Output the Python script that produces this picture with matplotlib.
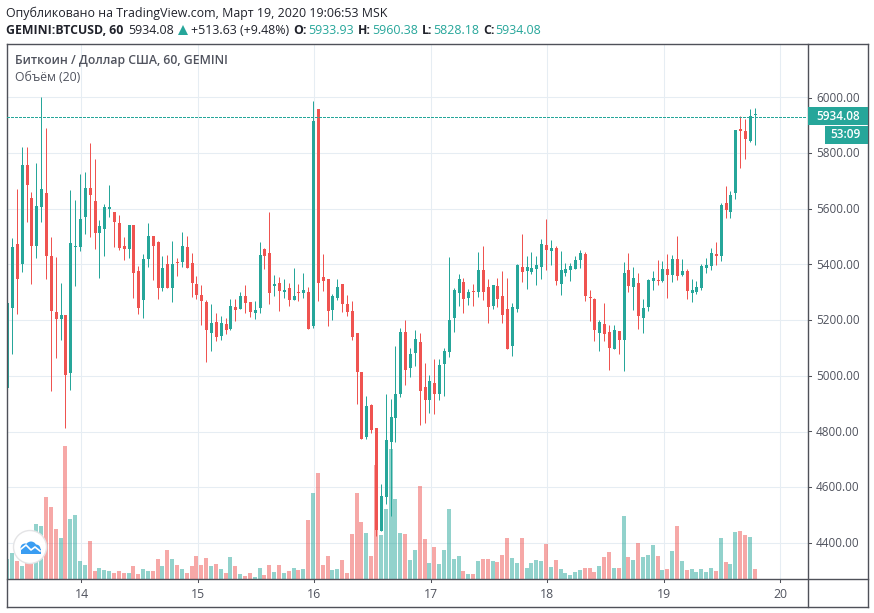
import numpy as np
import matplotlib
matplotlib.use('Agg')
import matplotlib.pyplot as plt
from matplotlib.patches import Circle, Rectangle

plt.rcParams['font.family'] = ['Open Sans', 'DejaVu Sans']

# hourly candles
opens = [4957,5244,5473,5402,5757,5638,5467,5604,5656,5430,
         5229,5205,5218,5011,5463,5462,5571,5674,5627,5514,
         5528,5600,5588,5548,5466,5456,5541,5376,5273,5420,
         5502,5480,5316,5401,5316,5408,5410,5462,5405,5329,
         5290,5265,5154,5193,5144,5186,5169,5247,5241,5286,
         5265,5226,5244,5455,5441,5323,5333,5302,5315,5273,
         5301,5298,5301,5178,5958,5355,5347,5237,5280,5329,
         5257,5232,5153,5015,4782,4897,4814,4444,4566,4764,
         4847,4935,5157,5029,5083,5121,4959,4914,4974,4935,
         5043,5086,5208,5298,5337,5279,5304,5302,5380,5319,
         5250,5322,5286,5239,5108,5241,5390,5377,5374,5384,
         5392,5469,5449,5459,5330,5370,5381,5384,5417,5437,
         5283,5275,5154,5186,5157,5097,5160,5129,5380,5320,
         5333,5208,5248,5341,5344,5340,5383,5363,5419,5362,
         5376,5298,5302,5314,5388,5395,5437,5428,5620,5589,
         5657,5886,5879,5842,5933.93]
closes = [5260,5462,5348,5757,5683,5467,5610,5671,5428,5233,
          5205,5218,5004,5477,5466,5563,5674,5650,5514,5538,
          5606,5606,5550,5460,5456,5541,5370,5244,5419,5502,
          5467,5316,5387,5316,5401,5406,5466,5388,5334,5291,
          5269,5165,5189,5140,5189,5165,5250,5237,5286,5262,
          5230,5236,5433,5428,5298,5329,5305,5308,5273,5286,
          5298,5308,5169,5915,5334,5341,5233,5286,5319,5259,
          5230,5140,5014,4775,4893,4807,4448,4570,4768,4854,
          4936,5157,5022,5078,5132,4946,4914,4981,4935,5038,
          5089,5200,5308,5347,5277,5301,5302,5380,5302,5248,
          5326,5277,5219,5097,5247,5398,5374,5390,5387,5398,
          5473,5453,5459,5341,5380,5383,5394,5416,5441,5287,
          5280,5165,5193,5151,5101,5164,5129,5369,5323,5351,
          5216,5243,5344,5351,5341,5383,5363,5419,5359,5376,
          5305,5308,5319,5394,5398,5441,5428,5613,5596,5649,
          5883,5877,5848,5933,5934.08]
highs = [5265,5493,5671,5822,5822,5660,5764,6000,5890,5498,
         5426,5333,5218,5667,5631,5725,5732,5836,5778,5559,
         5617,5685,5588,5577,5498,5541,5541,5394,5438,5548,
         5502,5484,5430,5433,5484,5423,5516,5502,5441,5358,
         5326,5272,5257,5225,5214,5207,5275,5275,5301,5326,
         5265,5268,5480,5459,5588,5362,5355,5347,5333,5387,
         5329,5369,5319,5987,5958,5437,5347,5293,5347,5329,
         5290,5269,5153,5015,4929,4898,4814,4613,4936,4918,
         5107,5171,5200,5099,5164,5153,5046,5002,5060,5060,
         5099,5426,5315,5365,5351,5311,5329,5444,5466,5347,
         5326,5351,5376,5351,5261,5401,5509,5430,5444,5430,
         5491,5563,5487,5466,5448,5405,5405,5430,5451,5444,
         5308,5279,5200,5261,5182,5182,5160,5408,5441,5390,
         5369,5275,5347,5376,5416,5412,5437,5433,5502,5419,
         5383,5347,5340,5401,5423,5459,5480,5620,5681,5663,
         5883,5932,5922,5958,5960.38]
lows = [4856,5079,5223,5374,5553,5330,5424,5550,5348,4946,
        5065,5129,4813,4950,5323,5449,5510,5499,5456,5352,
        5431,5568,5463,5453,5417,5424,5280,5223,5208,5392,
        5345,5277,5305,5316,5266,5359,5392,5388,5284,5277,
        5183,5050,5090,5126,5129,5151,5165,5198,5241,5226,
        5212,5205,5226,5384,5259,5287,5233,5280,5251,5273,
        5269,5280,5169,5172,5269,5305,5180,5201,5273,5230,
        5216,5129,4899,4775,4775,4796,4426,4444,4541,4498,
        4764,4925,4968,4996,5036,4824,4831,4867,4863,4914,
        4928,5068,5158,5251,5226,5255,5251,5284,5273,5190,
        5241,5248,5190,5097,5072,5230,5338,5313,5366,5327,
        5348,5381,5399,5327,5291,5359,5341,5384,5388,5269,
        5198,5126,5090,5126,5022,5097,5079,5018,5302,5237,
        5169,5154,5233,5309,5327,5338,5280,5338,5345,5359,
        5277,5266,5295,5308,5370,5381,5398,5413,5566,5566,
        5636,5744,5776,5840,5828.18]
volumes = [58,76,52,37,48,60,163,157,244,214,
           148,121,397,178,190,52,40,112,22,31,
           25,22,16,22,16,16,37,13,28,22,
           22,58,37,85,58,40,28,16,37,67,
           40,61,37,43,28,16,64,37,13,7,
           16,4,31,10,40,19,40,16,22,31,
           25,28,175,256,316,40,67,25,28,55,
           16,133,256,169,136,67,340,130,208,388,
           238,136,133,55,85,277,118,46,94,43,
           85,208,58,67,22,13,13,52,58,58,
           52,49,70,121,61,46,121,31,46,55,
           52,103,34,55,28,16,10,19,25,31,
           31,19,37,64,79,31,31,187,64,55,
           106,64,70,100,67,25,28,82,157,52,
           25,28,19,28,19,31,22,121,49,43,
           139,142,130,124,28]

day_labels = ['14', '15', '16', '17', '18', '19', '20']
first_day_bar = 15
price_ticks = [6000, 5800, 5600, 5400, 5200, 5000, 4800, 4600, 4400]
last_price = 5934.08

GREEN = '#26a69a'
RED = '#ef5350'
GRID = '#e6edf3'
FRAME = '#4f5159'
TEXT = '#50535e'

W, H = 874, 613
fig = plt.figure(figsize=(W / 100, H / 100), dpi=100, facecolor='white')
left, right, top, bottom = 6.5, 807.5, 43.5, 578.5
pos = [left / W, 1 - bottom / H, (right - left) / W, (bottom - top) / H]

x0, px_per_bar = 7.65, 4.854
half_px = 0.5 / px_per_bar  # keeps wicks centred on the snapped bodies
xlim = ((left - x0) / px_per_bar, (right - x0) / px_per_bar)
ylim = (4273, 6192)

x = np.arange(len(opens))
o = np.array(opens)
c = np.array(closes)
colors = np.where(c >= o, GREEN, RED)
day_pos = [first_day_bar + 24 * k + 0.2 for k in range(len(day_labels))]

# three layers: grid, then volume, then candles
ax = fig.add_axes(pos, zorder=1)
for d in day_pos:
    ax.axvline(d, color=GRID, lw=0.75)
for p in price_ticks:
    ax.axhline(p, color=GRID, lw=0.75)

ax_vol = fig.add_axes(pos, zorder=2)
ax_vol.patch.set_visible(False)
vol_colors = list(colors)
vol_colors[-1] = RED
ax_vol.bar(x - half_px, volumes, width=4 / px_per_bar, color=vol_colors, alpha=0.5, linewidth=0)
ax_vol.set_ylim(0, 1605)

ax_c = fig.add_axes(pos, zorder=3)
ax_c.patch.set_visible(False)
ax_c.vlines(x - half_px, lows, highs, colors=colors, lw=0.72, zorder=3)
heights = np.maximum(np.abs(c - o), 3.5)
ax_c.bar(x, heights, bottom=np.minimum(o, c), width=3 / px_per_bar, color=colors, linewidth=0, zorder=4)

for a in (ax, ax_vol, ax_c):
    a.set_xlim(xlim)
    a.set_xticks([])
    a.set_yticks([])
    for s in a.spines.values():
        s.set_visible(False)
ax.set_ylim(ylim)
ax_c.set_ylim(ylim)

# everything around the plot is placed in pixels on an overlay
ov = fig.add_axes([0, 0, 1, 1], zorder=10)
ov.set_xlim(0, W)
ov.set_ylim(H, 0)
ov.axis('off')

ov.plot([6.5, 6.5], [43.5, 606.5], color=FRAME, lw=1)
ov.plot([867.5, 867.5], [43.5, 606.5], color=FRAME, lw=1)
ov.plot([6.5, 867.5], [43.5, 43.5], color=FRAME, lw=1)
ov.plot([6.5, 867.5], [606.5, 606.5], color=FRAME, lw=1)
ov.plot([807.5, 807.5], [43.5, 606.5], color=FRAME, lw=1)
ov.plot([6.5, 867.5], [578.5, 578.5], color=FRAME, lw=1)

# price line, dotted teal, one pixel row
ov.hlines(116.5, 7, 807, colors=GREEN, lw=0.9, linestyles=(0, (2.2, 1.1)), antialiased=False)

for lab, d in zip(day_labels, day_pos):
    px = x0 + d * px_per_bar
    ov.plot([px, px], [578.5, 582], color=FRAME, lw=0.75)
    ov.text(px, 594, lab, ha='center', va='center', fontsize=8.8, color=TEXT)

for p in price_ticks:
    py = 97.5 + (6000 - p) * 0.2783
    ov.plot([807.5, 811], [py, py], color=FRAME, lw=0.75)
    ov.text(816, py + 0.7, f'{p:.2f}', ha='left', va='center', fontsize=8.5, color=TEXT)

# last price tags
ov.add_patch(Rectangle((807.5, 107), 60, 18, color=GREEN, lw=0, zorder=5))
ov.text(816, 116.4, f'{last_price:.2f}', ha='left', va='center', fontsize=8.5,
        color='white', fontweight='semibold', zorder=6)
ov.add_patch(Rectangle((825, 126), 42.5, 17.5, color=GREEN, lw=0, zorder=5))
ov.text(830, 135, '53:09', ha='left', va='center', fontsize=8.5,
        color='white', fontweight='semibold', zorder=6)

# header
DARK = '#20222b'
ov.text(6, 13, 'Опубликовано на TradingView.com, Март 19, 2020 19:06:53 MSK',
        fontsize=8.9, color=DARK, va='center')
y2 = 30
ov.text(6, y2, 'GEMINI:BTCUSD, 60', fontsize=8.8, fontweight='bold', color=DARK, va='center')
ov.text(128, y2, '5934.08', fontsize=8.9, color=DARK, va='center')
ov.plot([183], [y2], marker='^', ms=7, color=GREEN, mew=0)
ov.text(191, y2, '+513.63 (+9.48%)', fontsize=8.9, color=DARK, va='center')
for lab, lx in [('O:', 293), ('H:', 358), ('L:', 422), ('C:', 483)]:
    ov.text(lx, y2, lab, fontsize=8.8, fontweight='bold', color=DARK, va='center')
for val, vx in [('5933.93', 308), ('5960.38', 372), ('5828.18', 433), ('5934.08', 495)]:
    ov.text(vx, y2, val, fontsize=8.9, color=GREEN, va='center')

ov.text(15, 60.5, 'Биткоин / Доллар США, 60, GEMINI', fontsize=8.8, fontweight='semibold',
        color=TEXT, va='center')
ov.text(15, 77.5, 'Объём (20)', fontsize=8.8, color=TEXT, va='center')

# tradingview badge
ov.add_patch(Circle((30, 547), 16.5, fc='white', ec='#e4e4e6', lw=1, zorder=7))
BLUE = '#3a9df2'
for cx, cy, r in [(25, 548, 4.5), (31, 547, 5.5), (36, 549, 4.5)]:
    ov.add_patch(Circle((cx, cy), r, fc=BLUE, ec='none', zorder=8))
ov.add_patch(Rectangle((21, 549), 20, 4.5, fc=BLUE, ec='none', zorder=8))
ov.plot([21, 26, 31, 35, 40], [549, 545, 550, 547, 551], color='white', lw=1.2, zorder=9)

fig.savefig('out.png', dpi=100)
